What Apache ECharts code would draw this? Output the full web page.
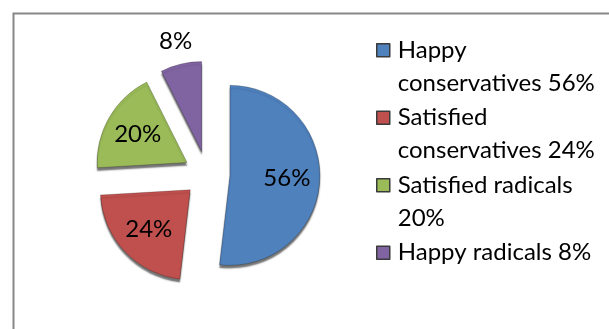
<!DOCTYPE html>
<html><head><meta charset="utf-8">
<script src="https://cdn.jsdelivr.net/npm/echarts@6/dist/echarts.min.js"></script>
<style>html,body{margin:0;padding:0;background:#fff}#c{width:609px;height:329px}</style>
</head><body><div id="c"></div>
<script>
const categories = ['Happy conservatives', 'Satisfied conservatives', 'Satisfied radicals', 'Happy radicals'];
const values = [56, 24, 20, 8];
const legendLabels = ['Happy\nconservatives 56%', 'Satisfied\nconservatives 24%', 'Satisfied radicals\n20%', 'Happy radicals 8%\n '];
const colors = ['#4F81BD', '#C0504D', '#9BBB59', '#8064A2'];
const outsideLabel = [false, false, false, true];

const FONT = 'Lato';
const CENTER = [207, 174];
const R = 90;
const OFFSET = 23;

const chart = echarts.init(document.getElementById('c'), null, {renderer: 'canvas'});

const mainData = categories.map((n, i) => ({
  name: n, value: values[i], selected: true,
  itemStyle: {color: colors[i]}
}));
const innerLabelData = categories.map((n, i) => ({
  name: n, value: values[i], selected: true,
  label: {show: !outsideLabel[i]}
}));
const outerLabelData = categories.map((n, i) => ({
  name: n, value: values[i], selected: true,
  label: {show: outsideLabel[i]}
}));

const legendIcon = 'path://M0,0M0,66M0,10h13v13h-13z';

const labelStyle = {
  position: 'inside',
  fontFamily: FONT, fontSize: 24, color: '#000',
  formatter: p => p.value + '%'
};

chart.setOption({
  animation: false,
  backgroundColor: '#fff',
  graphic: [{
    type: 'rect', left: 11, top: 11, silent: true,
    shape: {width: 640, height: 360},
    style: {fill: 'none', stroke: '#888', lineWidth: 2}
  }],
  legend: {
    orient: 'vertical', left: 376, top: 33, padding: 0,
    itemWidth: 13, itemHeight: 66, itemGap: 0,
    selectedMode: false,
    textStyle: {fontFamily: FONT, fontSize: 24, lineHeight: 33, color: '#000', padding: [0, 0, 0, 3]},
    itemStyle: {borderColor: '#3a3a3a', borderWidth: 1.5},
    data: categories.map((n, i) => ({
      name: n,
      icon: legendIcon,
      itemStyle: {color: colors[i], borderColor: '#3a3a3a', borderWidth: 1.5}
    })),
    formatter: name => legendLabels[categories.indexOf(name)]
  },
  series: [
    {
      type: 'pie', center: CENTER, radius: [0, R],
      startAngle: 90, clockwise: true,
      selectedMode: 'multiple', selectedOffset: OFFSET,
      silent: true,
      label: {show: false}, labelLine: {show: false},
      itemStyle: {
        borderColor: 'rgba(0,0,0,0.35)', borderWidth: 0.6,
        shadowColor: 'rgba(0,0,0,0.55)', shadowBlur: 1.5, shadowOffsetX: 0, shadowOffsetY: 3
      },
      emphasis: {disabled: true},
      data: mainData
    },
    {
      type: 'pie', center: CENTER, radius: [18, R],
      startAngle: 90, clockwise: true,
      selectedMode: 'multiple', selectedOffset: OFFSET,
      silent: true,
      itemStyle: {color: 'rgba(0,0,0,0)'},
      label: labelStyle, labelLine: {show: false},
      emphasis: {disabled: true},
      data: innerLabelData
    },
    {
      type: 'pie', center: CENTER, radius: [R, 130],
      startAngle: 90, clockwise: true,
      selectedMode: 'multiple', selectedOffset: OFFSET,
      silent: true,
      itemStyle: {color: 'rgba(0,0,0,0)'},
      label: labelStyle, labelLine: {show: false},
      emphasis: {disabled: true},
      data: outerLabelData
    }
  ]
});
</script></body></html>
